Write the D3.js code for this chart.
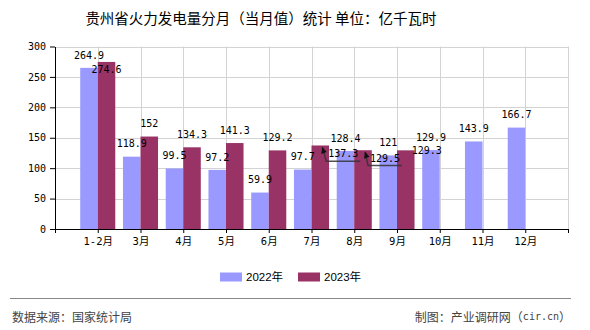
<!DOCTYPE html>
<html>
<head>
<meta charset="utf-8">
<script src="https://cdn.jsdelivr.net/npm/d3@7/dist/d3.min.js"></script>
<style>
  html, body { margin: 0; padding: 0; background: #fff; }
  svg { display: block; }
</style>
</head>
<body>
<svg id="chart" width="590" height="330"></svg>
<script>
// Monthly thermal power generation, Guizhou (100 million kWh)
const categories = ["1-2月", "3月", "4月", "5月", "6月", "7月", "8月", "9月", "10月", "11月", "12月"];
const seriesNames = ["2022年", "2023年"];
const values2022 = [264.9, 118.9, 99.5, 97.2, 59.9, 97.7, 128.4, 121, 129.9, 143.9, 166.7];
const values2023 = [274.6, 152, 134.3, 141.3, 129.2, 137.3, 129.5, 129.3, null, null, null];
const yTicks = [0, 50, 100, 150, 200, 250, 300];
const colors = ["#9999ff", "#993366"];

// Labels that would collide are moved off their default spot above the bar
const labelMoves = {
  "1-2月|2023年": { dx: 0, dy: 8, leader: false },
  "7月|2023年": { dx: 23, dy: 8.5, leader: true },
  "8月|2023年": { dx: 22, dy: 8, leader: true },
  "9月|2023年": { dx: 21, dy: 0, leader: false }
};

const svg = d3.select("#chart");
const monoFont = "'DejaVu Sans Mono', 'Liberation Mono', monospace";
const cjkFont = "'Noto Sans CJK SC', 'Noto Sans', sans-serif";

const x = d3.scaleLinear().domain([0, categories.length + 1]).range([55, 568]);
const y = d3.scaleLinear().domain([0, 300]).range([229, 46.5]);
const barW = x(0.41) - x(0);

// Title
svg.append("text")
  .attr("x", 261).attr("y", 17)
  .attr("text-anchor", "middle").attr("dominant-baseline", "central")
  .attr("font-family", cjkFont).attr("font-size", 14.5).attr("fill", "#000")
  .text("贵州省火力发电量分月（当月值）统计 单位：亿千瓦时");

// Grid
const grid = svg.append("g").attr("stroke", "#d3d3d3").attr("stroke-width", 1);
grid.selectAll("line.h").data(yTicks.filter(d => d > 0)).join("line")
  .attr("class", "h")
  .attr("x1", x(0)).attr("x2", x(categories.length + 1))
  .attr("y1", d => Math.round(y(d)) + 0.5).attr("y2", d => Math.round(y(d)) + 0.5);
grid.selectAll("line.v").data(d3.range(1, categories.length + 2)).join("line")
  .attr("class", "v")
  .attr("x1", d => Math.round(x(d)) + 0.5).attr("x2", d => Math.round(x(d)) + 0.5)
  .attr("y1", y(300)).attr("y2", y(0));

// Bars
const series = [values2022, values2023];
series.forEach((vals, s) => {
  svg.append("g").selectAll("rect")
    .data(vals.map((v, i) => ({ v, i })).filter(d => d.v != null))
    .join("rect")
    .attr("x", d => s === 0 ? x(d.i + 1) - barW : x(d.i + 1))
    .attr("y", d => y(d.v))
    .attr("width", barW)
    .attr("height", d => y(0) - y(d.v))
    .attr("fill", colors[s]);
});

// Axes
const yAxis = svg.append("g")
  .attr("transform", `translate(${x(0)},0)`)
  .call(d3.axisLeft(y).tickValues(yTicks).tickSize(5).tickSizeOuter(0).tickPadding(4));
const xAxis = svg.append("g")
  .attr("transform", `translate(0,${y(0)})`)
  .call(d3.axisBottom(x).tickValues(d3.range(0, categories.length + 2))
    .tickFormat(i => categories[i - 1] || "").tickSize(4).tickSizeOuter(0).tickPadding(5));
[yAxis, xAxis].forEach(a => {
  a.selectAll("path, line").attr("stroke", "#000");
  a.selectAll("text").attr("fill", "#000")
    .attr("font-family", monoFont + ", " + cjkFont).attr("font-size", 10.5);
});
yAxis.selectAll("text").attr("font-size", 10);

// Value labels
const labels = svg.append("g");
series.forEach((vals, s) => {
  vals.forEach((v, i) => {
    if (v == null) return;
    const cx = s === 0 ? x(i + 1) - barW / 2 : x(i + 1) + barW / 2;
    const top = y(v);
    const move = labelMoves[categories[i] + "|" + seriesNames[s]];
    const lx = cx + (move ? move.dx : 0);
    const ly = top + (move ? move.dy : -12.7);
    labels.append("text")
      .attr("x", lx).attr("y", ly)
      .attr("text-anchor", "middle").attr("dominant-baseline", "central")
      .attr("font-family", monoFont).attr("font-size", 10).attr("fill", "#000")
      .text(String(v));
    if (move && move.leader) {
      const tipX = cx + 2, tipY = top + 1.5;
      const uy = ly + 7.2;
      labels.append("path")
        .attr("d", `M${tipX},${tipY}L${lx - 17},${uy}L${lx + 17},${uy}`)
        .attr("fill", "none").attr("stroke", "#333").attr("stroke-width", 1.5).attr("opacity", 0.85);
      labels.append("path")
        .attr("d", `M${tipX},${tipY}L${tipX - 1},${tipY + 7}L${tipX + 4.5},${tipY + 5}Z`)
        .attr("fill", "#111");
    }
  });
});

// Legend
const legend = svg.append("g");
[[220, 0], [298, 1]].forEach(([lx, s]) => {
  legend.append("rect").attr("x", lx).attr("y", 272.5).attr("width", 22).attr("height", 9).attr("fill", colors[s]);
  legend.append("text")
    .attr("x", lx + 26).attr("y", 277)
    .attr("dominant-baseline", "central")
    .attr("font-family", "'Liberation Sans', Arial, " + cjkFont).attr("font-size", 11.5).attr("fill", "#000")
    .text(seriesNames[s]);
});

// Footer
svg.append("line").attr("x1", 10).attr("x2", 571).attr("y1", 298.5).attr("y2", 298.5)
  .attr("stroke", "#888").attr("stroke-width", 1);
svg.append("text")
  .attr("x", 12).attr("y", 316).attr("dominant-baseline", "central")
  .attr("font-family", cjkFont).attr("font-size", 12).attr("fill", "#444")
  .text("数据来源：国家统计局");
const src = svg.append("text")
  .attr("x", 571).attr("y", 316).attr("text-anchor", "end").attr("dominant-baseline", "central")
  .attr("font-family", cjkFont).attr("font-size", 12).attr("fill", "#444");
src.append("tspan").text("制图：产业调研网（");
src.append("tspan").attr("font-family", monoFont).attr("font-size", 10).text("cir.cn");
src.append("tspan").text("）");
</script>
</body>
</html>
